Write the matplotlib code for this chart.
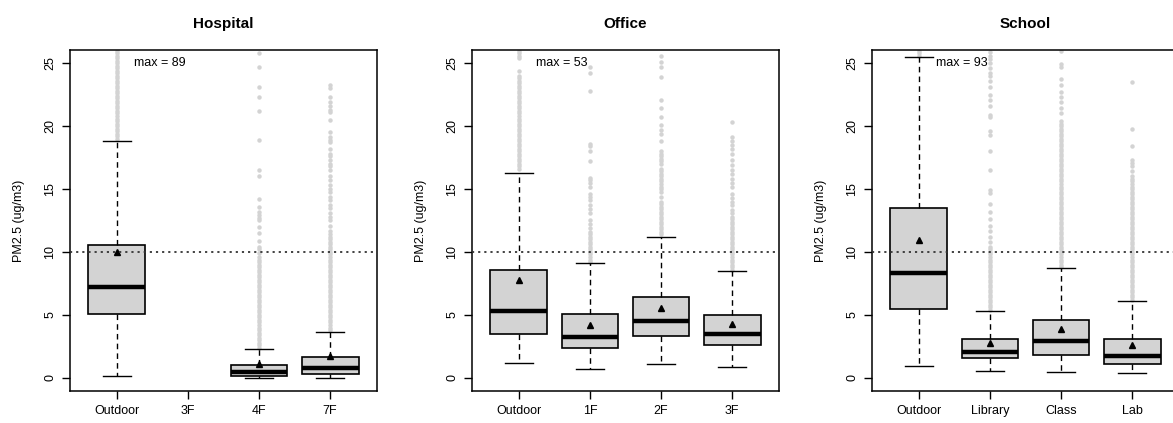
import matplotlib.pyplot as plt

plt.rcParams['font.family'] = ['Liberation Sans', 'DejaVu Sans']

titles = ['Hospital', 'Office', 'School']
ylabel = 'PM2.5 (ug/m3)'

# Hospital (3F has no data)
hosp_labels = ['Outdoor', '3F', '4F', '7F']
hosp_wlo = [0.16, None, 0.0, 0.0]
hosp_q1 = [5.06, None, 0.16, 0.34]
hosp_med = [7.23, None, 0.48, 0.79]
hosp_q3 = [10.59, None, 1.01, 1.69]
hosp_whi = [18.78, None, 2.28, 3.63]
hosp_mean = [9.96, None, 1.14, 1.77]
hosp_out_outdoor = [19.0, 19.2, 19.4, 19.6, 19.8, 20.0, 20.2, 20.4, 20.6, 20.8, 21.0, 21.2, 21.4,
                    21.6, 21.8, 22.0, 22.2, 22.4, 22.6, 22.8, 23.0, 23.2, 23.4, 23.6, 23.8, 24.0,
                    24.2, 24.4, 24.6, 24.8, 25.0, 25.2, 25.4, 25.6, 25.8, 26.0, 28, 33, 41, 57, 89]
hosp_out_4f = [2.4, 2.6, 2.8, 3.0, 3.2, 3.4, 3.6, 3.8, 4.0, 4.2, 4.4, 4.6, 4.8, 5.0, 5.2, 5.4,
               5.6, 5.8, 6.0, 6.2, 6.4, 6.6, 6.8, 7.0, 7.2, 7.4, 7.6, 7.8, 8.0, 8.2, 8.4, 8.6,
               8.8, 9.0, 9.2, 9.4, 9.6, 9.9, 10.2, 10.4, 10.9, 11.5, 12.0, 12.5, 12.7, 12.9,
               13.2, 13.6, 14.2, 16.0, 16.5, 18.9, 21.2, 22.3, 23.1, 24.7, 25.8]
hosp_out_7f = [3.8, 4.0, 4.2, 4.4, 4.6, 4.8, 5.0, 5.2, 5.4, 5.6, 5.8, 6.0, 6.2, 6.4, 6.6, 6.8,
               7.0, 7.2, 7.4, 7.6, 7.8, 8.0, 8.2, 8.4, 8.6, 8.8, 9.0, 9.2, 9.4, 9.6, 9.8, 10.0,
               10.2, 10.4, 10.6, 10.8, 11.0, 11.2, 11.4, 11.7, 12.1, 12.5, 12.8, 13.1, 13.5,
               13.7, 14.1, 14.4, 14.8, 15.0, 15.3, 15.7, 16.0, 16.5, 16.8, 17.0, 17.3, 17.6,
               17.8, 18.2, 18.7, 18.9, 19.1, 19.5, 20.5, 21.1, 21.3, 21.6, 21.9, 22.3, 23.0, 23.25]
hosp_out = [hosp_out_outdoor, None, hosp_out_4f, hosp_out_7f]

# Office
off_labels = ['Outdoor', '1F', '2F', '3F']
off_wlo = [1.15, 0.7, 1.1, 0.9]
off_q1 = [3.45, 2.4, 3.3, 2.6]
off_med = [5.35, 3.25, 4.55, 3.45]
off_q3 = [8.6, 5.1, 6.45, 5.0]
off_whi = [16.3, 9.1, 11.2, 8.5]
off_mean = [7.8, 4.2, 5.55, 4.3]
off_out_outdoor = [16.6, 16.8, 17.0, 17.2, 17.4, 17.6, 17.8, 18.0, 18.2, 18.4, 18.6, 18.8, 19.0,
                   19.2, 19.4, 19.6, 19.8, 20.0, 20.2, 20.4, 20.6, 20.8, 21.0, 21.2, 21.4, 21.6,
                   21.8, 22.0, 22.2, 22.4, 22.6, 22.8, 23.0, 23.2, 23.4, 23.6, 23.8, 24.0, 24.4,
                   25.4, 25.6, 25.8, 26.0, 30, 37, 53]
off_out_1f = [9.2, 9.4, 9.6, 9.8, 10.0, 10.2, 10.4, 10.6, 10.8, 11.0, 11.2, 11.4, 11.6, 11.9,
              12.2, 12.5, 13.1, 13.4, 13.7, 14.1, 14.4, 14.6, 15.2, 15.5, 15.7, 15.9, 17.2,
              18.0, 18.4, 18.6, 22.8, 24.2, 24.7]
off_out_2f = [11.4, 11.6, 11.8, 12.0, 12.2, 12.4, 12.6, 12.8, 13.0, 13.2, 13.4, 13.6, 13.8, 14.0,
              14.4, 14.8, 15.0, 15.2, 15.4, 15.6, 15.8, 16.0, 16.2, 16.4, 16.6, 17.0, 17.2,
              17.4, 17.6, 17.8, 18.0, 18.8, 19.4, 19.7, 20.1, 20.7, 21.4, 22.1, 23.9, 24.7,
              25.1, 25.6]
off_out_3f = [8.6, 8.8, 9.0, 9.2, 9.4, 9.6, 9.8, 10.0, 10.2, 10.4, 10.6, 10.8, 11.0, 11.2, 11.4,
              11.6, 11.8, 12.0, 12.2, 12.4, 12.6, 12.8, 13.1, 13.3, 13.7, 14.0, 14.3, 14.6,
              15.2, 15.5, 15.8, 16.2, 16.5, 16.9, 17.3, 17.8, 18.2, 18.5, 18.8, 19.1, 20.3]
off_out = [off_out_outdoor, off_out_1f, off_out_2f, off_out_3f]

# School
sch_labels = ['Outdoor', 'Library', 'Class', 'Lab']
sch_wlo = [0.93, 0.56, 0.48, 0.37]
sch_q1 = [5.51, 1.59, 1.80, 1.14]
sch_med = [8.37, 2.07, 2.97, 1.77]
sch_q3 = [13.53, 3.12, 4.56, 3.05]
sch_whi = [25.48, 5.32, 8.69, 6.09]
sch_mean = [10.94, 2.81, 3.87, 2.65]
sch_out_outdoor = [25.6, 25.8, 26.0, 30, 40, 55, 70, 93]
sch_out_library = [5.4, 5.6, 5.8, 6.0, 6.2, 6.4, 6.6, 6.8, 7.0, 7.2, 7.4, 7.6, 7.8, 8.0, 8.2,
                   8.4, 8.6, 8.8, 9.0, 9.2, 9.4, 9.6, 9.8, 10.0, 10.2, 10.4, 10.8, 11.2, 11.7,
                   12.1, 12.6, 13.2, 13.8, 14.7, 14.9, 16.5, 18.0, 19.3, 19.6, 20.7, 20.9, 21.6,
                   22.1, 22.5, 23.1, 23.6, 24.0, 24.2, 24.6, 25.0, 25.3, 25.6, 25.9]
sch_out_class = [8.8, 9.0, 9.2, 9.4, 9.6, 9.8, 10.0, 10.2, 10.4, 10.6, 10.8, 11.0, 11.2, 11.4,
                 11.6, 11.8, 12.0, 12.2, 12.4, 12.6, 12.8, 13.0, 13.2, 13.4, 13.6, 13.8, 14.0,
                 14.2, 14.4, 14.6, 14.8, 15.0, 15.2, 15.4, 15.6, 15.8, 16.0, 16.2, 16.4, 16.6,
                 16.8, 17.0, 17.2, 17.4, 17.6, 17.8, 18.0, 18.2, 18.4, 18.6, 18.8, 19.0, 19.2,
                 19.4, 19.6, 19.8, 20.0, 20.2, 20.4, 21.0, 21.4, 21.9, 22.3, 22.7, 23.3, 23.7,
                 24.7, 24.9, 26.0]
sch_out_lab = [6.2, 6.4, 6.6, 6.8, 7.0, 7.2, 7.4, 7.6, 7.8, 8.0, 8.2, 8.4, 8.6, 8.8, 9.0, 9.2,
               9.4, 9.6, 9.8, 10.0, 10.2, 10.4, 10.6, 10.8, 11.0, 11.2, 11.4, 11.6, 11.8, 12.0,
               12.2, 12.4, 12.6, 12.8, 13.0, 13.2, 13.4, 13.6, 13.8, 14.0, 14.2, 14.4, 14.6,
               14.8, 15.0, 15.2, 15.4, 15.6, 15.8, 16.0, 16.4, 16.8, 17.1, 17.3, 18.4, 19.8, 23.5]
sch_out = [sch_out_outdoor, sch_out_library, sch_out_class, sch_out_lab]

panels = [
    (hosp_labels, hosp_wlo, hosp_q1, hosp_med, hosp_q3, hosp_whi, hosp_mean, hosp_out),
    (off_labels, off_wlo, off_q1, off_med, off_q3, off_whi, off_mean, off_out),
    (sch_labels, sch_wlo, sch_q1, sch_med, sch_q3, sch_whi, sch_mean, sch_out),
]

fig = plt.figure(figsize=(11.73, 4.23), dpi=100)
lefts = [70 / 1173, 472 / 1173, 872 / 1173]

for i, (labels, wlo, q1, med, q3, whi, mean, outs) in enumerate(panels):
    ax = fig.add_axes([lefts[i], 32 / 423, 307 / 1173, 341 / 423])
    stats = []
    pos = []
    for j in range(len(labels)):
        if med[j] is None:
            continue
        stats.append(dict(whislo=wlo[j], q1=q1[j], med=med[j], q3=q3[j], whishi=whi[j],
                          mean=mean[j], fliers=outs[j]))
        pos.append(j + 1)
    ax.bxp(stats, positions=pos, widths=0.8, capwidths=0.4, showmeans=True, patch_artist=True,
           boxprops=dict(facecolor='#d3d3d3', edgecolor='black', linewidth=1.2),
           medianprops=dict(color='black', linewidth=3.2, solid_capstyle='butt'),
           whiskerprops=dict(color='black', linewidth=1.0, linestyle=(0, (4, 3))),
           capprops=dict(color='black', linewidth=1.0),
           flierprops=dict(marker='o', markersize=2.2, markerfacecolor='#d3d3d3',
                           markeredgecolor='#d3d3d3', zorder=1),
           meanprops=dict(marker='^', markersize=5, markerfacecolor='black',
                          markeredgecolor='black'))
    ax.axhline(10, color='#333333', linestyle=(0, (1.2, 2.2)), linewidth=1.3, zorder=5)
    all_vals = [v for o in outs if o for v in o]
    ax.text(1.6, 25, f'max = {max(all_vals):.0f}', ha='center', va='center', fontsize=9)
    ax.set_xlim(0.34, 4.66)
    ax.set_ylim(-1.04, 26.04)
    ax.set_xticks(range(1, len(labels) + 1))
    ax.set_xticklabels(labels, fontsize=9)
    ax.set_yticks([0, 5, 10, 15, 20, 25])
    ax.set_yticklabels(['0', '5', '10', '15', '20', '25'], fontsize=9, rotation=90, va='center')
    ax.tick_params(length=6, width=1, pad=4)
    ax.set_ylabel(ylabel, fontsize=9, labelpad=14)
    ax.set_title(titles[i], fontsize=11, fontweight='bold', pad=16)
    for s in ax.spines.values():
        s.set_linewidth(1.1)

fig.savefig('out.png', dpi=100)
